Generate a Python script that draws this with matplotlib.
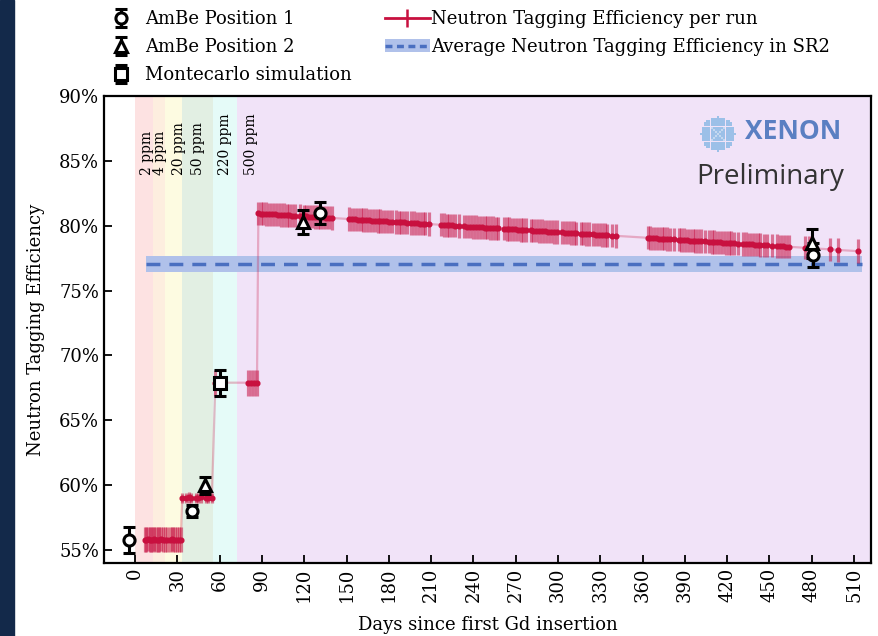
import numpy as np
import matplotlib.pyplot as plt
from matplotlib.patches import Patch, Rectangle
from matplotlib.lines import Line2D
from matplotlib.ticker import FuncFormatter

plt.rcParams['font.family'] = 'DejaVu Serif'

# Gd concentration phases (day boundaries) and their labels
phase_edges = [0, 13, 21.5, 33.5, 55.5, 72, 522]
phase_colors = ['#fde2e2', '#fdeedf', '#fdfbe1', '#e2efe3', '#e5fbf8', '#f1e3f8']
ppm_labels = ['2 ppm', '4 ppm', '20 ppm', '50 ppm', '220 ppm', '500 ppm']
ppm_label_days = [8.6, 17.6, 31, 45, 64, 82]

# Neutron tagging efficiency per run, one block per concentration step
days_low = [7, 8, 9, 10.5, 11.5, 12.5, 13.5, 15, 16, 17, 18.5, 19.5, 21,
            23, 24.5, 26, 27, 28.5, 30, 31.5, 32.5]
eff_low = [55.8, 55.8, 55.85, 55.8, 55.8, 55.8, 55.85, 55.8, 55.8, 55.8, 55.85,
           55.8, 55.8, 55.8, 55.8, 55.85, 55.8, 55.8, 55.8, 55.8, 55.8]

days_50 = [33.5, 36, 38, 40, 43, 45, 47, 50, 52, 54.5]
eff_50 = [59.0, 59.0, 59.05, 59.0, 59.0, 59.0, 59.05, 59.0, 59.0, 59.0]

days_220 = [57, 80, 82, 84.5, 86.5]
eff_220 = [67.9, 67.9, 67.9, 67.9, 67.9]

days_500 = [87.5, 89, 91, 93, 95,
            97.5, 99.5, 101.5, 103.5, 105.5, 107.5, 109.5, 111.5, 113.5,
            117, 119.5, 121.5,
            123.5, 125.5, 127.5, 129.5, 131.5, 133.5, 135.5, 137.5, 139.5,
            152, 154, 156, 158, 160, 162, 164, 166, 168,
            170, 172, 174, 176, 178, 180, 182,
            185, 187, 189, 191, 193, 195.5,
            198, 200, 202, 204, 206, 208.5,
            217, 219, 221, 223, 225, 227, 229.5,
            233.5, 235.5, 237.5, 239.5,
            242, 244, 246, 248, 250, 252, 254, 256, 257.5,
            261.5, 263.5, 265.5, 267.5, 269.5, 271.5, 273.5, 275.5, 277.5,
            280.5, 282.5, 284.5, 286.5,
            289, 291, 293, 295, 297, 299.5,
            303, 305, 307, 309, 311, 313,
            316, 318, 320, 322, 324.5,
            327, 329, 331, 333, 335,
            338.5, 341,
            363.5, 365.5, 367.5, 369.5, 371.5, 373.5,
            375.5, 377.5, 379.5, 382,
            385.5, 387.5, 389.5, 391.5, 393.5, 395.5, 397.5, 399.5, 401.5, 404,
            407, 409, 411, 413, 415, 417, 419, 421, 423, 425, 428,
            431.5, 433.5, 435.5, 437.5, 439.5, 441.5, 443.5, 446,
            448.5, 451.5,
            455.5, 457.5, 459.5, 461.5, 463.5,
            475, 478, 493, 498.5, 512.5]
eff_500 = [80.95, 80.94, 80.92, 80.90, 80.89,
           80.88, 80.87, 80.85, 80.84, 80.83, 80.81, 80.80, 80.78, 80.77,
           80.75, 80.73, 80.72,
           80.71, 80.69, 80.68, 80.66, 80.65, 80.64, 80.62, 80.61, 80.60,
           80.51, 80.50, 80.49, 80.47, 80.46, 80.44, 80.43, 80.42, 80.40,
           80.39, 80.37, 80.36, 80.35, 80.33, 80.32, 80.31,
           80.29, 80.27, 80.26, 80.25, 80.23, 80.22,
           80.20, 80.19, 80.17, 80.16, 80.15, 80.13,
           80.07, 80.06, 80.04, 80.03, 80.02, 80.00, 79.98,
           79.96, 79.94, 79.93, 79.91,
           79.90, 79.88, 79.87, 79.86, 79.84, 79.83, 79.82, 79.80, 79.79,
           79.77, 79.75, 79.74, 79.72, 79.71, 79.70, 79.68, 79.67, 79.66,
           79.64, 79.62, 79.61, 79.60,
           79.58, 79.57, 79.55, 79.54, 79.52, 79.51,
           79.48, 79.47, 79.46, 79.44, 79.43, 79.41,
           79.39, 79.38, 79.37, 79.35, 79.33,
           79.32, 79.30, 79.29, 79.28, 79.26,
           79.24, 79.22,
           79.07, 79.06, 79.04, 79.03, 79.01, 79.00,
           78.99, 78.97, 78.96, 78.94,
           78.92, 78.90, 78.89, 78.87, 78.86, 78.85, 78.83, 78.82, 78.81, 78.79,
           78.77, 78.75, 78.74, 78.73, 78.71, 78.70, 78.68, 78.67, 78.66, 78.64, 78.62,
           78.60, 78.58, 78.57, 78.56, 78.54, 78.53, 78.51, 78.50,
           78.48, 78.46,
           78.43, 78.42, 78.40, 78.39, 78.38,
           78.30, 78.28, 78.17, 78.14, 78.04]

# uncertainty per run in each block
block_err = [0.95, 0.4, 1.0, 0.9]

# AmBe calibrations and simulation
ambe1_days = [-4, 40.5, 131.5, 481]
ambe1_eff = [55.8, 58.0, 81.0, 77.75]
ambe1_err = [1.0, 0.45, 0.85, 0.9]

ambe2_days = [49.5, 119, 480]
ambe2_eff = [60.0, 80.3, 78.65]
ambe2_err = [0.65, 0.9, 1.1]

mc_days = [60.6]
mc_eff = [67.9]
mc_err = [1.0]

# SR2 average
avg_eff = 77.05
avg_err = 0.63
avg_span = [7.5, 515.5]

crimson = '#c8103f'
avg_blue = '#4a6fc0'
band_blue = '#b0c1ea'

fig = plt.figure(figsize=(8.79, 6.36), dpi=100)
fig.add_artist(Rectangle((0, 0), 14 / 879, 1, transform=fig.transFigure,
                         color='#13294a', zorder=-5))
ax = fig.add_axes([104 / 879, 73 / 636, 767 / 879, 467 / 636])

for i, c in enumerate(phase_colors):
    ax.axvspan(phase_edges[i], phase_edges[i + 1], color=c, lw=0, zorder=0)
for lab, d in zip(ppm_labels, ppm_label_days):
    ax.text(d, 83.9, lab, rotation=90, ha='center', va='bottom', fontsize=10)

# average band
ax.fill_between(avg_span, avg_eff - avg_err, avg_eff + avg_err,
                color=band_blue, lw=0, zorder=1)
ax.plot(avg_span, [avg_eff, avg_eff], color=avg_blue, lw=2.5,
        ls=(0, (4, 2.6)), zorder=2)

# runs
blocks = [(days_low, eff_low), (days_50, eff_50), (days_220, eff_220), (days_500, eff_500)]
all_days = np.concatenate([b[0] for b in blocks])
all_eff = np.concatenate([b[1] for b in blocks])
all_err = np.concatenate([np.full(len(b[0]), e) for b, e in zip(blocks, block_err)])

ax.plot(all_days, all_eff, color=crimson, alpha=0.28, lw=1.6, zorder=3)
ax.errorbar(all_days, all_eff, yerr=all_err, fmt='none',
            ecolor=(0.78, 0.08, 0.27, 0.55), elinewidth=2.3, zorder=3)
ax.plot(all_days, all_eff, ls='none', marker='o', ms=3.4, color=crimson, zorder=4)

ebkw = dict(color='black', mfc='white', mec='black', mew=2.2, ms=8,
            elinewidth=2.2, capsize=4.5, capthick=2.2, ls='none', zorder=6)
h1 = ax.errorbar(ambe1_days, ambe1_eff, yerr=ambe1_err, fmt='o', **ebkw)
h2 = ax.errorbar(ambe2_days, ambe2_eff, yerr=ambe2_err, fmt='^', **ebkw)
h3 = ax.errorbar(mc_days, mc_eff, yerr=mc_err, fmt='s', **ebkw)

ax.set_xlim(-22, 522)
ax.set_ylim(54.0, 90.0)
ax.set_xticks(np.arange(0, 511, 30))
ax.set_yticks(np.arange(55, 91, 5))
ax.yaxis.set_major_formatter(FuncFormatter(lambda v, p: f'{v:.0f}%'))
ax.tick_params(axis='x', labelrotation=90)
ax.tick_params(direction='in', length=6, width=1.3, labelsize=13)
for s in ax.spines.values():
    s.set_linewidth(1.6)
ax.set_xlabel('Days since first Gd insertion', fontsize=13, labelpad=10)
ax.set_ylabel('Neutron Tagging Efficiency', fontsize=13, labelpad=10)

# XENON Preliminary logo
logo = fig.add_axes([700 / 879, (636 - 152) / 636, 36 / 879, 36 / 636])
g = np.linspace(-1, 1, 17)
gx, gy = np.meshgrid(g, g)
r = np.hypot(gx, gy)
inside = r <= 1.0
cross = (np.abs(np.abs(gx) - np.abs(gy)) < 0.1) & (r < 0.7)
logo.scatter(gx[inside & ~cross], gy[inside & ~cross], s=2.5, marker='s',
             color='#9cc0e8', lw=0)
logo.scatter(gx[inside & cross], gy[inside & cross], s=2.5, marker='s',
             color='#c4d8f0', lw=0)
logo.set_xlim(-1.05, 1.05)
logo.set_ylim(-1.05, 1.05)
logo.set_aspect('equal')
logo.axis('off')
fig.text(745 / 879, 1 - 132 / 636, 'XENON', fontsize=19, fontweight='bold',
         color='#5a7fc2', family='Open Sans', va='center', ha='left')
fig.text(844 / 879, 1 - 177 / 636, 'Preliminary', fontsize=20,
         color='#333333', family='Open Sans', va='center', ha='right')

run_handle = Line2D([], [], color=crimson, lw=2, marker='|', ms=13, mew=1.8)
avg_handle = (Patch(facecolor=band_blue, edgecolor='none'),
              Line2D([], [], color=avg_blue, lw=2.5, ls=(0, (2, 1.3))))
fig.legend([h1, h2, h3, run_handle, avg_handle],
           ['AmBe Position 1', 'AmBe Position 2', 'Montecarlo simulation',
            'Neutron Tagging Efficiency per run',
            'Average Neutron Tagging Efficiency in SR2'],
           ncol=2, loc='upper left', bbox_to_anchor=(86 / 879, 1.004),
           frameon=False, fontsize=13, handlelength=2.5, handletextpad=0.05,
           columnspacing=1.85, labelspacing=0.55, borderpad=0.2)

fig.savefig('out.png', dpi=100)
